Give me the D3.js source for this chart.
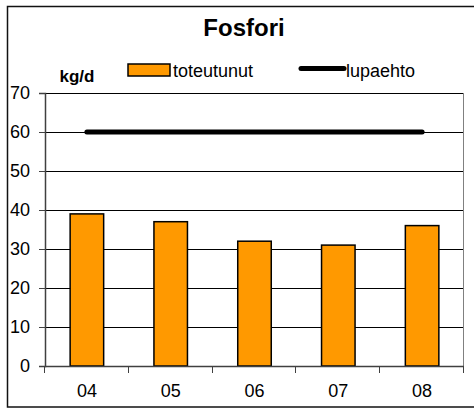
<!DOCTYPE html>
<html>
<head>
<meta charset="utf-8">
<script src="https://cdn.jsdelivr.net/npm/d3@7"></script>
<style>
html,body{margin:0;padding:0;background:#fff;}
svg{display:block;font-family:"Liberation Sans",Arial,sans-serif;}
</style>
</head>
<body>
<svg id="chart" width="474" height="408"></svg>
<script>
const categories = ["04", "05", "06", "07", "08"];
const toteutunut = [39, 37, 32, 31, 36];
const lupaehto = [60, 60, 60, 60, 60];
const yTicks = [0, 10, 20, 30, 40, 50, 60, 70];
const title = "Fosfori";
const unitLabel = "kg/d";
const seriesNames = ["toteutunut", "lupaehto"];

const svg = d3.select("#chart");
const W = 474, H = 408;
const plot = {left: 45, right: 464, top: 93, bottom: 366};

// outer frame
svg.append("rect")
  .attr("x", 7.5).attr("y", 6.5)
  .attr("width", W).attr("height", 400.5)
  .attr("fill", "none").attr("stroke", "#111").attr("stroke-width", 1.5);

const x = d3.scaleBand().domain(categories)
  .range([plot.left, plot.right]).paddingInner(0.6).paddingOuter(0.3);
const xTick = d3.scaleBand().domain(categories).range([plot.left, plot.right]).padding(0);
const y = d3.scaleLinear().domain([0, 70]).range([plot.bottom, plot.top]);

// gridlines
svg.append("g").selectAll("line").data(yTicks.filter(d => d > 0)).join("line")
  .attr("x1", plot.left).attr("x2", plot.right)
  .attr("y1", d => Math.round(y(d)) + 0.5).attr("y2", d => Math.round(y(d)) + 0.5)
  .attr("stroke", "#000").attr("stroke-width", 1);

// right plot border
svg.append("line")
  .attr("x1", plot.right - 0.5).attr("x2", plot.right - 0.5)
  .attr("y1", plot.top).attr("y2", plot.bottom)
  .attr("stroke", "#808080").attr("stroke-width", 1);

// bars
svg.append("g").selectAll("rect").data(toteutunut).join("rect")
  .attr("x", (d, i) => x(categories[i]))
  .attr("y", d => y(d))
  .attr("width", x.bandwidth())
  .attr("height", d => y(0) - y(d))
  .attr("fill", "#FF9900").attr("stroke", "#000").attr("stroke-width", 1.5);

// y axis
const yAxis = d3.axisLeft(y).tickValues(yTicks).tickSize(6).tickPadding(9);
const gy = svg.append("g").attr("transform", `translate(${plot.left},0)`).call(yAxis);
gy.select(".domain").attr("stroke", "#404040").attr("stroke-width", 1.5);
gy.selectAll(".tick line").attr("stroke", "#404040");
gy.selectAll("text").attr("font-size", 18).attr("fill", "#000")
  .attr("font-family", "Liberation Sans, Arial, sans-serif");

// x axis
const gx = svg.append("g").attr("transform", `translate(0,${plot.bottom})`);
gx.append("line").attr("x1", plot.left).attr("x2", plot.right)
  .attr("y1", 0.5).attr("y2", 0.5).attr("stroke", "#404040").attr("stroke-width", 1.5);
const tickXs = categories.map(c => xTick(c)).concat([plot.right]);
gx.selectAll("line.t").data(tickXs).join("line").attr("class", "t")
  .attr("x1", d => Math.round(d) - 0.5).attr("x2", d => Math.round(d) - 0.5)
  .attr("y1", 0).attr("y2", 7).attr("stroke", "#404040");
gx.selectAll("text").data(categories).join("text")
  .attr("x", d => xTick(d) + xTick.bandwidth() / 2)
  .attr("y", 31)
  .attr("text-anchor", "middle").attr("font-size", 18).text(d => d);

// limit line
const line = d3.line().x((d, i) => x(categories[i]) + x.bandwidth() / 2).y(d => y(d));
svg.append("path").datum(lupaehto).attr("d", line)
  .attr("fill", "none").attr("stroke", "#000").attr("stroke-width", 5)
  .attr("stroke-linecap", "round");

// title
svg.append("text").attr("x", 244).attr("y", 36).attr("text-anchor", "middle")
  .attr("font-size", 24).attr("font-weight", "bold").text(title);

// unit label
svg.append("text").attr("x", 77).attr("y", 82).attr("text-anchor", "middle")
  .attr("font-size", 17).attr("font-weight", "bold").text(unitLabel);

// legend
const lg = svg.append("g");
lg.append("rect").attr("x", 128).attr("y", 64).attr("width", 42).attr("height", 12)
  .attr("fill", "#FF9900").attr("stroke", "#000").attr("stroke-width", 1.5);
lg.append("text").attr("x", 173).attr("y", 77).attr("font-size", 18).text(seriesNames[0]);
lg.append("line").attr("x1", 301).attr("x2", 344).attr("y1", 68.5).attr("y2", 68.5)
  .attr("stroke", "#000").attr("stroke-width", 5).attr("stroke-linecap", "round");
lg.append("text").attr("x", 346).attr("y", 77).attr("font-size", 18).text(seriesNames[1]);
</script>
</body>
</html>
